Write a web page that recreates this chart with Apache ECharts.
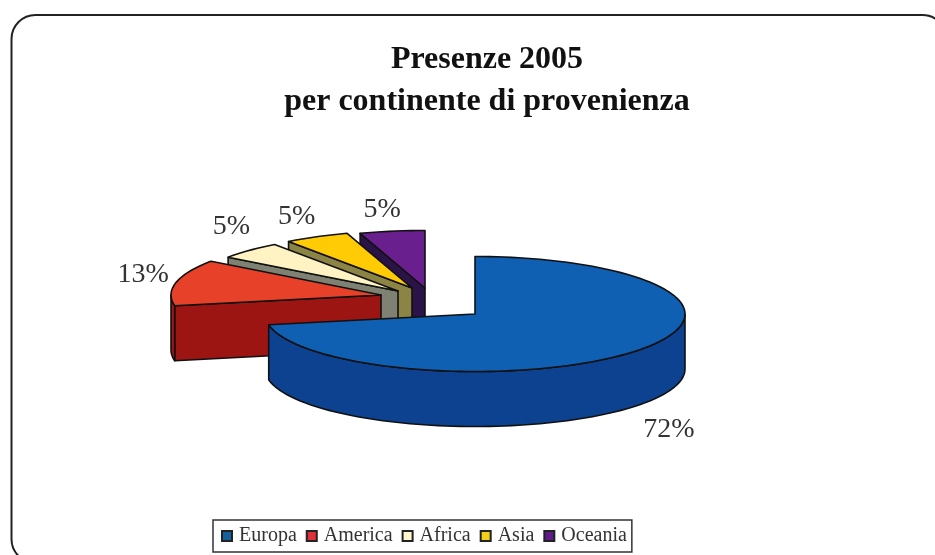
<!DOCTYPE html>
<html>
<head>
<meta charset="utf-8">
<style>html,body{margin:0;padding:0;background:#fff}#chart{width:935px;height:555px}</style>
<script src="https://cdn.jsdelivr.net/npm/echarts@6/dist/echarts.min.js"></script>
</head>
<body>
<div id="chart"></div>
<script>
// data
const continents = ['Europa', 'America', 'Africa', 'Asia', 'Oceania'];
const shares = [72, 13, 5, 5, 5];
const titleLines = ['Presenze 2005', 'per continente di provenienza'];

const topColors = ['#0f5fb2', '#e8412a', '#fff3c4', '#ffcb05', '#6a1f8e'];
const wallColors = ['#0d4290', '#9c1512', '#7f8272', '#8c8444', '#2a1346'];
const legendColors = ['#14609f', '#e0303c', '#fff6d0', '#f2cf1c', '#5e1a86'];

// pie geometry
const cx = 475, cy = 314, rx = 210, ry = 57.5, depth = 55;
// each slice is pulled out by its own amount, like the original
const explode = [[0, 0], [-94, -19], [-77, -23], [-63, -26], [-50, -26]];
const labelShift = [[32, 79], [-33, -8], [-18, -24], [-20, -20], [-10, -22]];
// back slices get drawn first
const drawOrder = [5, 4, 3, 2, 1];

const total = shares.reduce((a, b) => a + b, 0);

function rimPoint(ox, oy, deg) {
  const r = deg * Math.PI / 180;
  return [ox + Math.sin(r) * rx, oy - Math.cos(r) * ry];
}

function renderSlice(params, api) {
  const i = params.seriesIndex;
  let before = 0;
  for (let k = 0; k < i; k++) before += shares[k];
  const a0 = before / total * 360;
  const a1 = a0 + api.value(0) / total * 360;
  const ox = cx + explode[i][0], oy = cy + explode[i][1];
  const line = { stroke: '#111', lineWidth: 1.6, lineJoin: 'round' };
  const children = [];

  // face along the first cut, only when it turns to the viewer
  if (Math.sin(a0 * Math.PI / 180) < -0.01) {
    const p = rimPoint(ox, oy, a0);
    children.push({
      type: 'polygon',
      shape: { points: [[ox, oy], p, [p[0], p[1] + depth], [ox, oy + depth]] },
      style: Object.assign({ fill: wallColors[i] }, line)
    });
  }

  // outer wall, front half of the ellipse only
  const from = Math.max(a0, 90), to = Math.min(a1, 270);
  if (to > from) {
    const upper = [], lower = [];
    for (let d = from; d < to; d += 2) upper.push(rimPoint(ox, oy, d));
    upper.push(rimPoint(ox, oy, to));
    upper.forEach(p => lower.unshift([p[0], p[1] + depth]));
    children.push({
      type: 'polygon',
      shape: { points: upper.concat(lower) },
      style: Object.assign({ fill: wallColors[i] }, line)
    });
  }

  // top face
  const top = [[ox, oy]];
  for (let d = a0; d < a1; d += 2) top.push(rimPoint(ox, oy, d));
  top.push(rimPoint(ox, oy, a1));
  children.push({
    type: 'polygon',
    shape: { points: top },
    style: Object.assign({ fill: topColors[i] }, line)
  });

  const mid = rimPoint(ox, oy, (a0 + a1) / 2);
  children.push({
    type: 'text',
    style: {
      x: mid[0] + labelShift[i][0],
      y: mid[1] + labelShift[i][1],
      text: api.value(0) + '%',
      fill: '#333',
      font: '28px "Liberation Serif"',
      align: 'center',
      verticalAlign: 'middle'
    }
  });
  return { type: 'group', children: children };
}

const chart = echarts.init(document.getElementById('chart'));
chart.setOption({
  animation: false,
  backgroundColor: '#fff',
  title: {
    text: titleLines.join('\n'),
    left: 482,
    top: 34,
    textAlign: 'center',
    textStyle: {
      fontFamily: 'Liberation Serif',
      fontWeight: 'bold',
      fontSize: 32,
      lineHeight: 42,
      color: '#111'
    }
  },
  legend: {
    data: continents,
    left: 213,
    top: 520,
    padding: [6, 5, 6, 8],
    itemWidth: 10,
    itemHeight: 10,
    itemGap: 9,
    icon: 'rect',
    backgroundColor: '#fff',
    borderColor: '#333',
    borderWidth: 1.5,
    selectedMode: false,
    textStyle: {
      fontFamily: 'Liberation Serif',
      fontSize: 20,
      color: '#333',
      padding: [0, 0, 0, 2]
    }
  },
  graphic: [{
    type: 'rect',
    z: -1,
    silent: true,
    shape: { x: 11.5, y: 15, width: 935, height: 548, r: 24 },
    style: { fill: '#fff', stroke: '#222', lineWidth: 2 }
  }],
  series: continents.map((name, i) => ({
    name: name,
    type: 'custom',
    coordinateSystem: 'none',
    z: drawOrder[i],
    silent: true,
    itemStyle: { color: legendColors[i], borderColor: '#222', borderWidth: 1 },
    renderItem: renderSlice,
    data: [[shares[i]]]
  }))
});
</script>
</body>
</html>
